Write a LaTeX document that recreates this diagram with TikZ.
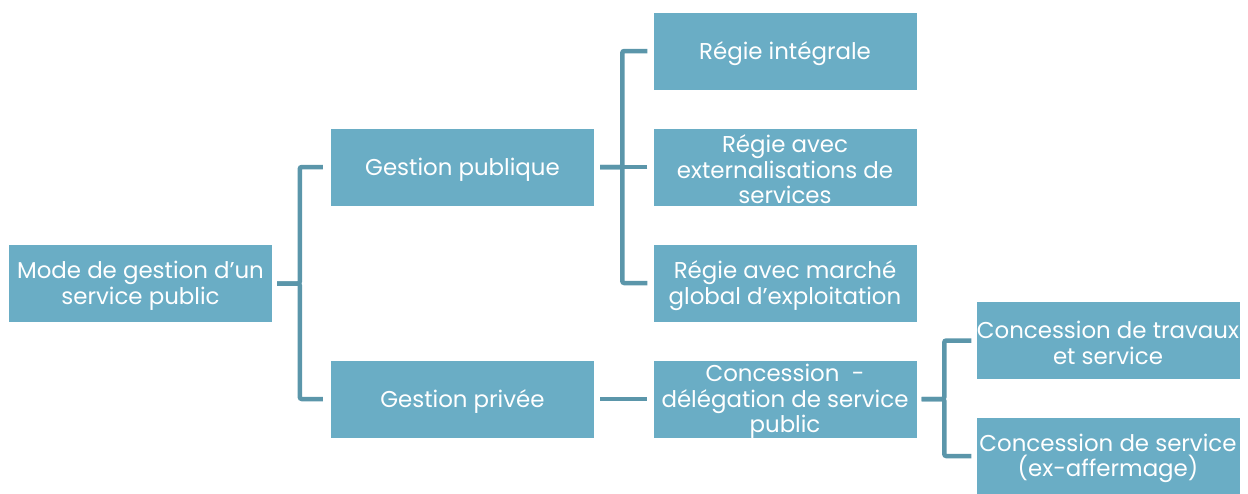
\documentclass[tikz,border=0pt]{standalone}
\usepackage{fontspec}
\setmainfont{Poppins}
\usetikzlibrary{calc}
\definecolor{boxfill}{RGB}{106,173,197}
\definecolor{conncol}{RGB}{91,150,170}
\newcommand{\lowtext}[1]{\raisebox{-2.5pt}[\height][\depth]{\parbox{263pt}{\centering\fontsize{22.9}{25.5}\selectfont #1}}}
\tikzset{
  box/.style={fill=boxfill, draw=none, minimum width=263pt, minimum height=77pt, inner sep=0pt,
    text=white},
  conn/.style={draw=conncol, line width=4.5pt, rounded corners=2pt}
}
\begin{document}
\begin{tikzpicture}[x=1pt,y=-1pt]
\useasboundingbox (0,0) rectangle (1248,493);
\node[box] (root) at (140.5,283.5) {\lowtext{Mode de gestion d’un\\service public}};
\node[box] (gp) at (462.5,167) {\lowtext{Gestion publique}};
\node[box] (gpr) at (462.5,399) {\lowtext{Gestion privée}};
\node[box] (r1) at (785,51) {\lowtext{Régie intégrale}};
\node[box] (r2) at (785,167) {\lowtext{Régie avec\\externalisations de\\services}};
\node[box] (r3) at (785,283) {\lowtext{Régie avec marché\\global d’exploitation}};
\node[box] (conc) at (785,399) {\lowtext{Concession\ \ -\\délégation de service\\public}};
\node[box] (c1) at (1108,340.5) {\lowtext{Concession de travaux\\et service}};
\node[box] (c2) at (1108,456) {\lowtext{Concession de service\\(ex-affermage)}};
% level 1
\draw[conn] ($(gp.west)+(-8,0)$) -- ++(-23,0) |- ($(root.east)+(5,0)$);
\draw[conn] ($(gpr.west)+(-8,0)$) -- ++(-23,0) |- ($(root.east)+(5,0)$);
% level 2
\draw[conn] ($(r1.west)+(-6,0)$) -- ++(-25,0) |- ($(gp.east)+(6,0)$);
\draw[conn] ($(r2.west)+(-6,0)$) -- ($(gp.east)+(6,0)$);
\draw[conn] ($(r3.west)+(-6,0)$) -- ++(-25,0) |- ($(gp.east)+(6,0)$);
\draw[conn] ($(gpr.east)+(6,0)$) -- ($(conc.west)+(-6,0)$);
% level 3
\draw[conn] ($(c1.west)+(-5,0)$) -- ++(-27,0) |- ($(conc.east)+(5,0)$);
\draw[conn] ($(c2.west)+(-5,0)$) -- ++(-27,0) |- ($(conc.east)+(5,0)$);
\end{tikzpicture}
\end{document}
